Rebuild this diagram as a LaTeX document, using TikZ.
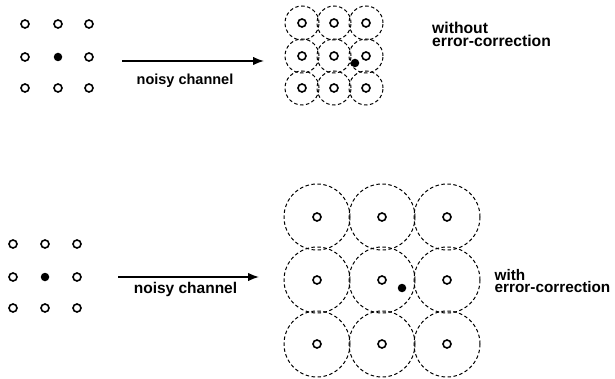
\documentclass[tikz,border=0pt]{standalone}
\usepackage{fontspec}
\setmainfont{Liberation Sans}
\usetikzlibrary{arrows.meta}
\tikzset{
  pt/.style={circle,draw,line width=1.6pt,minimum size=8pt,inner sep=0pt},
  bdot/.style={circle,fill=black,minimum size=8.5pt,inner sep=0pt},
  smallring/.style={circle,draw,dash pattern=on 3.5pt off 2.5pt,line width=1pt,minimum size=34pt,inner sep=0pt},
  bigring/.style={circle,draw,dash pattern=on 3.5pt off 2.5pt,line width=1pt,minimum size=66pt,inner sep=0pt},
  chan/.style={line width=1.5pt,-{Latex[length=11pt,width=8.5pt]}},
  lbl/.style={inner sep=0pt,font=\bfseries},
}
\begin{document}
\begin{tikzpicture}[x=1pt,y=-1pt]
\useasboundingbox (0,0) rectangle (615,379);
% ---- top: source constellation
\foreach \c [count=\i] in {25,58,89}{
  \foreach \r [count=\j] in {24,57,88}{
    \ifnum\i=2 \ifnum\j=2 \else \node[pt] (ta\i\j) at (\c,\r) {}; \fi
    \else \node[pt] (ta\i\j) at (\c,\r) {}; \fi
  }
}
\node[bdot] (ta22) at (58,57) {};
% ---- top: received
\foreach \c [count=\i] in {302,334,366}{
  \foreach \r [count=\j] in {23,56,88}{
    \node[smallring] (tr\i\j) at (\c,\r) {};
    \node[pt] (tp\i\j) at (\c,\r) {};
  }
}
\node[bdot] (tx) at (355,63) {};
\coordinate (ts) at (122,61);
\coordinate (te) at (264,61);
\draw[chan] (ts) -- (te);
\node[lbl,anchor=base,font=\bfseries\fontsize{14.5}{14.5}\selectfont] (tl) at (185,85) {noisy channel};
\node[lbl,anchor=north west,align=left,font=\bfseries\fontsize{15.7}{11}\selectfont] (tw) at (432,22) {without\\error-correction};
% ---- bottom: source constellation
\foreach \c [count=\i] in {13,45,77}{
  \foreach \r [count=\j] in {244,277,308}{
    \ifnum\i=2 \ifnum\j=2 \else \node[pt] (ba\i\j) at (\c,\r) {}; \fi
    \else \node[pt] (ba\i\j) at (\c,\r) {}; \fi
  }
}
\node[bdot] (ba22) at (45,277) {};
% ---- bottom: received
\foreach \c [count=\i] in {317,382,447}{
  \foreach \r [count=\j] in {217,280,344}{
    \node[bigring] (br\i\j) at (\c,\r) {};
    \node[pt] (bp\i\j) at (\c,\r) {};
  }
}
\node[bdot] (bx) at (402,288) {};
\coordinate (bs) at (118,277);
\coordinate (be) at (259,277);
\draw[chan] (bs) -- (be);
\node[lbl,anchor=base,font=\bfseries\fontsize{15.5}{15.5}\selectfont] (bl) at (185.5,293) {noisy channel};
\node[lbl,anchor=north west,align=left,font=\bfseries\fontsize{15.3}{12}\selectfont] (bw) at (494.5,269) {with\\error-correction};
\end{tikzpicture}
\end{document}
